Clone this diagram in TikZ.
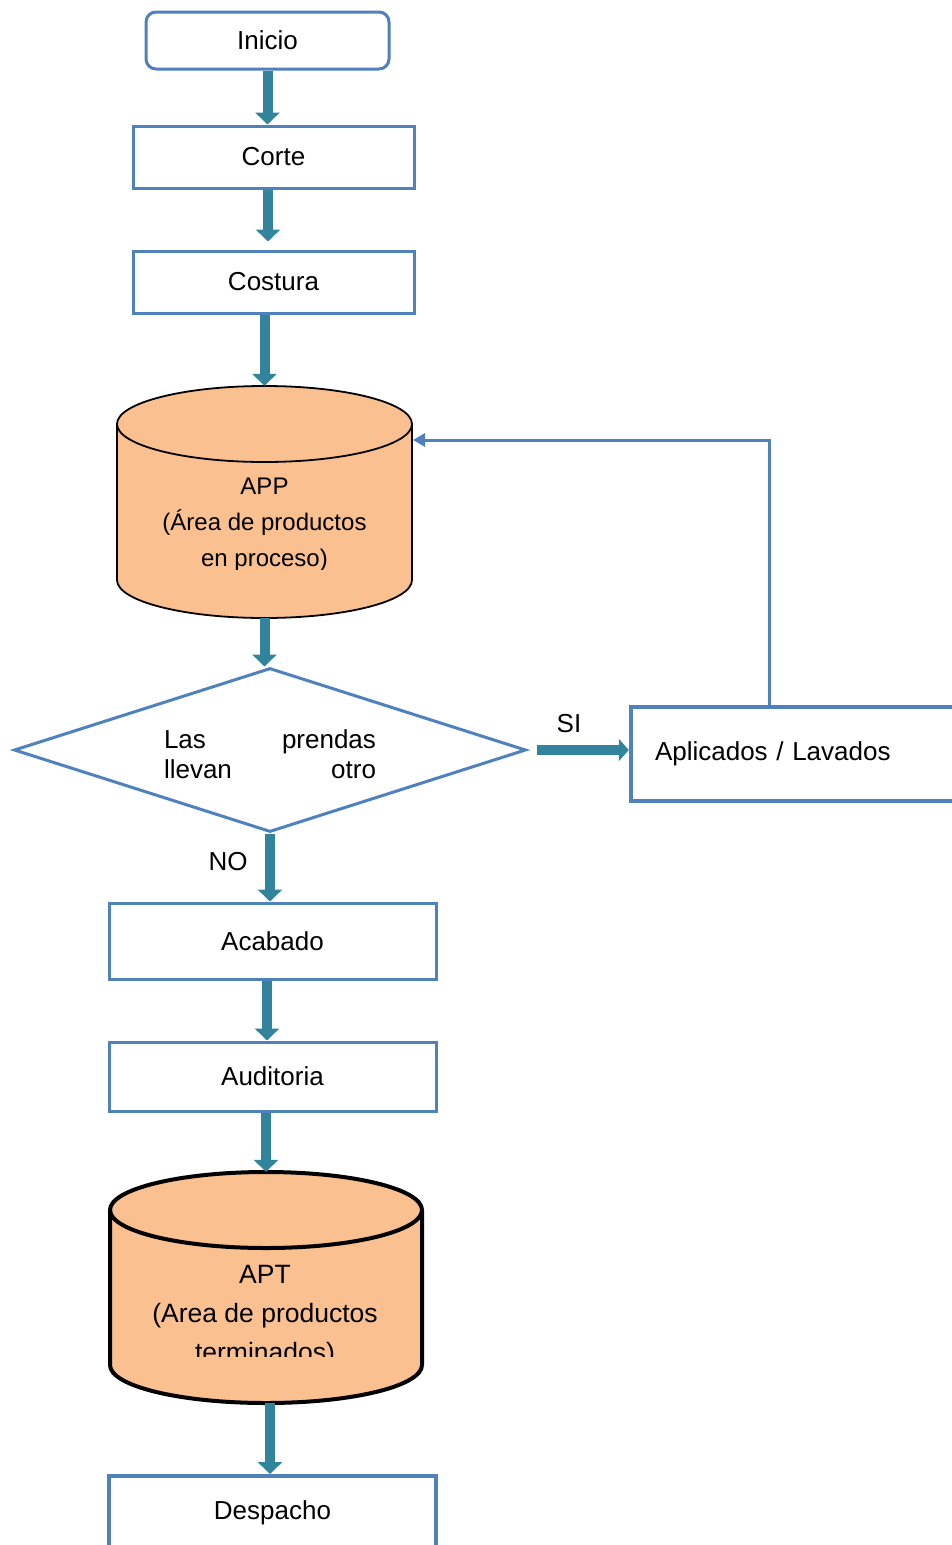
\documentclass[tikz,border=0pt]{standalone}
\usepackage{fontspec}
\setmainfont{Liberation Sans}
\usetikzlibrary{arrows.meta,shapes.geometric}
\definecolor{boxblue}{HTML}{4F81BD}
\definecolor{flowteal}{HTML}{31849B}
\definecolor{cylfill}{HTML}{FAC090}
\begin{document}
\begin{tikzpicture}[x=1pt,y=-1pt,
  every node/.style={font=\fontsize{26}{30}\selectfont},
  box/.style={draw=boxblue, line width=3pt, fill=white, inner sep=0pt},
  flow/.style={draw=flowteal, line width=10pt, -{Triangle[width=24pt,length=12pt]}},
  fb/.style={draw=boxblue, line width=3pt, -{Triangle[width=13pt,length=12pt]}},
  cylA/.style={draw=black, line width=1.8pt, fill=cylfill},
  cylB/.style={draw=black, line width=4pt, fill=cylfill},
  lbl/.style={inner sep=0pt}]
\useasboundingbox (0,0) rectangle (951,1545);

% boxes
\node[box, rounded corners=10pt, minimum width=243pt, minimum height=57pt] (inicio) at (267.5,40.5) {Inicio};
\node[box, minimum width=281pt, minimum height=62pt] (corte) at (273.5,157) {Corte};
\node[box, minimum width=281pt, minimum height=62pt] (costura) at (273.5,282) {Costura};

% APP cylinder
\node[inner sep=0pt, minimum width=295pt, minimum height=232pt] (app) at (264.5,502) {};
\filldraw[cylA] (117,424) -- (117,580) arc[start angle=180,end angle=0,x radius=147.5,y radius=38]
  -- (412,424) arc[start angle=0,end angle=-180,x radius=147.5,y radius=38] -- cycle;
\draw[cylA, fill=none] (117,424) arc[start angle=180,end angle=0,x radius=147.5,y radius=38];
\begin{scope}
\clip (100,460) rectangle (430,569);
\node[lbl, align=center, font=\fontsize{24}{36}\selectfont] (apptxt) at (264.5,525) {APP\\(Área de productos\\en proceso)};
\end{scope}

% decision
\node[draw=boxblue, line width=3pt, diamond, aspect=3.12, inner sep=0pt, minimum width=512pt, minimum height=164pt] (dec) at (270,750) {};
\node[lbl, font=\fontsize{26}{30}\selectfont] (dectxt) at (270,754) {\parbox{212pt}{Las\hfill prendas\\llevan\hfill otro}};

\node[draw=boxblue, line width=4.5pt, fill=white, inner sep=0pt, inner xsep=24pt, minimum width=359pt, minimum height=94pt, text width=311pt, align=left] (apl) at (810.5,754) {Aplicados / Lavados};

\node[box, minimum width=327pt, minimum height=76pt] (acab) at (272.5,941) {Acabado};
\node[box, minimum width=327pt, minimum height=69pt] (aud) at (272.5,1076.5) {Auditoria};

% APT cylinder
\node[inner sep=0pt, minimum width=312pt, minimum height=231pt] (apt) at (266,1287.5) {};
\filldraw[cylB] (110,1210) -- (110,1365) arc[start angle=180,end angle=0,x radius=156,y radius=38]
  -- (422,1210) arc[start angle=0,end angle=-180,x radius=156,y radius=38] -- cycle;
\draw[cylB, fill=none] (110,1210) arc[start angle=180,end angle=0,x radius=156,y radius=38];
\begin{scope}
\clip (100,1250) rectangle (430,1356);
\node[lbl, align=center, font=\fontsize{26.5}{39}\selectfont] (apttxt) at (265,1316) {APT\\(Area de productos\\terminados)};
\end{scope}

\node[box, line width=4pt, anchor=north, minimum width=327pt, text height=43pt, text depth=110pt] (desp) at (272.5,1474) {Despacho};

% labels
\node[lbl] (si) at (569,724) {SI};
\node[lbl] (no) at (228,862) {NO};

% connectors
\draw[flow] (inicio.south) -- (inicio.south |- corte.north);
\draw[flow] ([xshift=-5.5pt]corte.south) -- ([xshift=-5.5pt,yshift=8pt]costura.north);
\draw[flow] (costura.south -| app.north) -- (app.north);
\draw[flow] (app.south) -- (app.south |- dec.north);
\draw[flow, -{Triangle[width=22pt,length=10pt]}] ([xshift=9pt]dec.east) -- (dec.east -| apl.west);
\draw[flow] (dec.south) -- (dec.south |- acab.north);
\draw[flow] ([xshift=-5.5pt]acab.south) -- ([xshift=-5.5pt]aud.north);
\draw[flow] (aud.south -| apt.north) -- (apt.north);
\draw[flow] ([xshift=4pt]apt.south) -- ([xshift=4pt]apt.south |- desp.north);
\coordinate (appin) at (413,440);
\draw[fb] ([xshift=-41.5pt]apl.north) |- (appin);
\end{tikzpicture}
\end{document}
